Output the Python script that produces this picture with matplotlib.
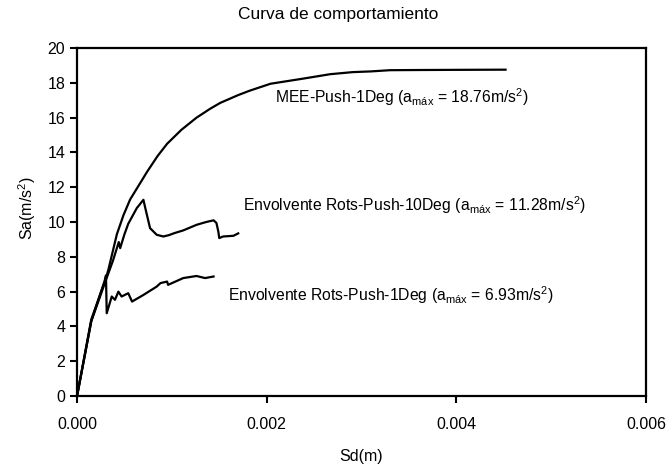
import matplotlib
matplotlib.use('Agg')
import matplotlib.pyplot as plt

plt.rcParams['font.family'] = ['Liberation Sans', 'DejaVu Sans']
plt.rcParams['mathtext.fontset'] = 'custom'
plt.rcParams['mathtext.rm'] = 'Liberation Sans'
plt.rcParams['mathtext.it'] = 'Liberation Sans'

# datos
mee_sd = [0, 0.00015, 0.0003, 0.00033, 0.00042, 0.00049, 0.00056, 0.00065, 0.00074,
          0.00085, 0.00095, 0.0011, 0.00126, 0.0014, 0.00151, 0.0017, 0.00182,
          0.00204, 0.00239, 0.00267, 0.00291, 0.0031, 0.0033, 0.0036, 0.0040, 0.00452]
mee_sa = [0, 4.4, 6.7, 7.25, 9.3, 10.4, 11.3, 12.1, 12.9,
          13.8, 14.5, 15.3, 16.0, 16.5, 16.85, 17.3, 17.55,
          17.95, 18.25, 18.5, 18.62, 18.66, 18.73, 18.74, 18.75, 18.76]

r10_sd = [0, 0.00015, 0.0003, 0.00038, 0.00044, 0.000455, 0.0005, 0.00054, 0.00063,
          0.0007, 0.00072, 0.00077, 0.00084, 0.00091, 0.00097, 0.00103, 0.00112,
          0.00126, 0.00136, 0.00144, 0.00147, 0.00149, 0.0015, 0.00154, 0.00165, 0.0017]
r10_sa = [0, 4.3, 6.6, 7.8, 8.85, 8.5, 9.3, 9.9, 10.8,
          11.28, 10.8, 9.65, 9.27, 9.17, 9.25, 9.37, 9.52,
          9.84, 10.0, 10.1, 9.95, 9.46, 9.08, 9.17, 9.21, 9.35]

r1_sd = [0, 0.00015, 0.00029, 0.000305, 0.000313, 0.000366, 0.0004, 0.000436, 0.00047,
         0.00054, 0.00058, 0.0007, 0.00084, 0.00088, 0.00095, 0.00096, 0.00112,
         0.00126, 0.00135, 0.00144]
r1_sa = [0, 4.3, 6.6, 6.93, 4.76, 5.72, 5.53, 6.0, 5.72,
         5.91, 5.43, 5.81, 6.29, 6.49, 6.58, 6.39, 6.78,
         6.9, 6.78, 6.87]

fig = plt.figure(figsize=(6.7, 4.67), dpi=100)
ax = fig.add_axes([0.115, 0.152, 0.849, 0.745])

ax.plot(mee_sd, mee_sa, c='black', lw=1.6)
ax.plot(r10_sd, r10_sa, c='black', lw=1.6)
ax.plot(r1_sd, r1_sa, c='black', lw=1.6)

ax.text(0.00209, 17.2, r'MEE-Push-1Deg (a$_{\mathrm{máx}}$ = 18.76m/s$^2$)',
        fontsize=11.3, va='center')
ax.text(0.00175, 11.0, r'Envolvente Rots-Push-10Deg (a$_{\mathrm{máx}}$ = 11.28m/s$^2$)',
        fontsize=11.3, va='center')
ax.text(0.00159, 5.8, r'Envolvente Rots-Push-1Deg (a$_{\mathrm{máx}}$ = 6.93m/s$^2$)',
        fontsize=11.3, va='center')

ax.set_xlim(0, 0.006)
ax.set_ylim(0, 20)
ax.set_xticks([0, 0.002, 0.004, 0.006])
ax.set_xticklabels(['0.000', '0.002', '0.004', '0.006'])
ax.set_yticks(range(0, 21, 2))
ax.tick_params(direction='out', length=5, width=1.5, labelsize=11.5)
ax.tick_params(axis='x', pad=10)
for s in ax.spines.values():
    s.set_linewidth(1.6)

ax.set_xlabel('Sd(m)', fontsize=11.5, labelpad=12)
fig.text(0.04, 0.555, 'Sa(m/s$^2$)', rotation=90, fontsize=11.5, ha='center', va='center')
fig.text(0.505, 0.968, 'Curva de comportamiento', fontsize=12.5, ha='center', va='center')

plt.savefig('out.png', dpi=100)
